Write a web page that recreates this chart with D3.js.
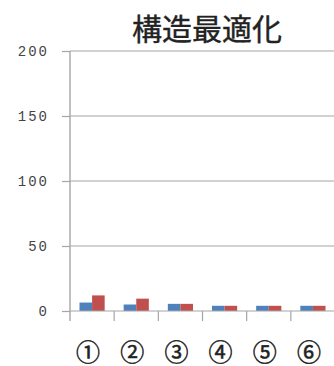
<!DOCTYPE html>
<html>
<head>
<meta charset="utf-8">
<script src="https://cdn.jsdelivr.net/npm/d3@7"></script>
<style>
  html, body { margin: 0; padding: 0; background: #fff; }
  svg { display: block; }
</style>
</head>
<body>
<svg id="chart" width="334" height="366"></svg>
<script>
// Categories, series values and axis ticks
const categories = ["①", "②", "③", "④", "⑤", "⑥"];
const seriesNames = ["A", "B"];
const seriesA = [6.5, 5, 5.5, 4, 4, 4];
const seriesB = [12, 9.5, 5.5, 4, 4, 4];
const yTicks = [0, 50, 100, 150, 200];
const title = "構造最適化";

const colors = { A: "#4f81bd", B: "#c0504d" };

const svg = d3.select("#chart");
const plotLeft = 70, plotRight = 335, plotTop = 51, plotBottom = 311;

const y = d3.scaleLinear().domain([0, 200]).range([plotBottom, plotTop]);
const x = d3.scaleBand().domain(categories).range([plotLeft, plotRight])
  .paddingInner(0.43).paddingOuter(0.215);
const xs = d3.scaleBand().domain(seriesNames).range([0, x.bandwidth()]);

// Title
svg.append("text")
  .attr("x", 207).attr("y", 40)
  .attr("text-anchor", "middle")
  .attr("font-family", "'Noto Sans CJK JP', sans-serif")
  .attr("font-size", 30)
  .attr("fill", "#222")
  .attr("stroke", "#222")
  .attr("stroke-width", 0.4)
  .text(title);

// Horizontal gridlines
svg.append("g").selectAll("line").data(yTicks.filter(d => d > 0)).join("line")
  .attr("x1", plotLeft).attr("x2", 334)
  .attr("y1", d => y(d)).attr("y2", d => y(d))
  .attr("stroke", "#a6a6a6").attr("stroke-width", 1.2);

// Y axis with ticks on the left
const yAxis = d3.axisLeft(y).tickValues(yTicks).tickSize(8).tickPadding(13);
const gy = svg.append("g").attr("transform", `translate(${plotLeft},0)`).call(yAxis);
gy.select(".domain").remove();
gy.selectAll(".tick line").attr("stroke", "#a6a6a6").attr("stroke-width", 1.2);
gy.selectAll(".tick text")
  .attr("font-family", "'Liberation Mono', monospace")
  .attr("font-size", 14)
  .attr("letter-spacing", 2)
  .attr("fill", "#444");
svg.append("line")
  .attr("x1", plotLeft).attr("x2", plotLeft)
  .attr("y1", plotTop).attr("y2", plotBottom + 10)
  .attr("stroke", "#a6a6a6").attr("stroke-width", 1.4);

// Bars
const rows = categories.map((c, i) => ({ cat: c, A: seriesA[i], B: seriesB[i] }));
const groups = svg.append("g").selectAll("g").data(rows).join("g")
  .attr("transform", d => `translate(${x(d.cat)},0)`);
groups.selectAll("rect")
  .data(d => seriesNames.map(s => ({ s, v: d[s] })))
  .join("rect")
  .attr("x", d => xs(d.s))
  .attr("width", xs.bandwidth())
  .attr("y", d => y(d.v))
  .attr("height", d => y(0) - y(d.v))
  .attr("fill", d => colors[d.s]);

// Baseline and category boundary ticks
svg.append("line")
  .attr("x1", plotLeft).attr("x2", 334)
  .attr("y1", plotBottom).attr("y2", plotBottom)
  .attr("stroke", "#a6a6a6").attr("stroke-width", 1.2);
const catStep = (plotRight - plotLeft) / categories.length;
svg.append("g").selectAll("line").data(d3.range(1, categories.length + 1)).join("line")
  .attr("x1", i => plotLeft + i * catStep)
  .attr("x2", i => plotLeft + i * catStep)
  .attr("y1", plotBottom).attr("y2", plotBottom + 10)
  .attr("stroke", "#a6a6a6").attr("stroke-width", 1.2);

// Category labels
svg.append("g").selectAll("text").data(categories).join("text")
  .attr("x", d => x(d) + x.bandwidth() / 2 - 4)
  .attr("y", 350)
  .attr("text-anchor", "middle")
  .attr("dominant-baseline", "central")
  .attr("font-family", "'Noto Sans CJK JP', sans-serif")
  .attr("font-size", 24)
  .attr("fill", "#222")
  .attr("stroke", "#222")
  .attr("stroke-width", 0.5)
  .text(d => d);
</script>
</body>
</html>
